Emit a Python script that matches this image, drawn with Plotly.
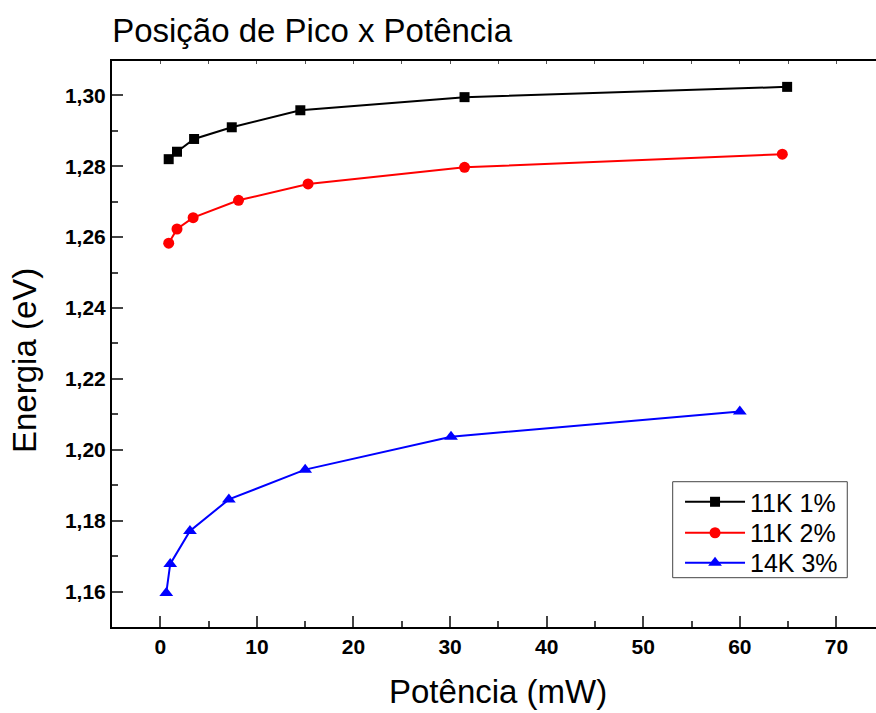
import plotly.graph_objects as go

# Data
x_11k1 = [0.87, 1.73, 3.5, 7.4, 14.5, 31.5, 64.9]
y_11k1 = [1.2820, 1.2841, 1.2877, 1.2910, 1.2958, 1.2995, 1.3024]
x_11k2 = [0.87, 1.73, 3.4, 8.1, 15.3, 31.5, 64.4]
y_11k2 = [1.2583, 1.2623, 1.2655, 1.2704, 1.2750, 1.2797, 1.2834]
x_14k3 = [0.62, 1.03, 3.07, 7.1, 15.0, 30.1, 60.0]
y_14k3 = [1.1596, 1.1678, 1.1771, 1.1860, 1.1944, 1.2037, 1.2108]
names = ["11K 1%", "11K 2%", "14K 3%"]

FONT = "Liberation Sans, Arial, sans-serif"
XR = [-5, 74.1]
YR = [1.15, 1.3097]

fig = go.Figure()
fig.add_trace(go.Scatter(x=x_11k1, y=y_11k1, name=names[0], mode="lines+markers",
                         line=dict(color="black", width=2), legend="legend",
                         marker=dict(symbol="square", size=10, color="black")))
fig.add_trace(go.Scatter(x=x_11k2, y=y_11k2, name=names[1], mode="lines+markers",
                         line=dict(color="red", width=2), legend="legend2",
                         marker=dict(symbol="circle", size=11, color="red")))
fig.add_trace(go.Scatter(x=x_14k3, y=y_14k3, name=names[2], mode="lines+markers",
                         line=dict(color="blue", width=2), legend="legend3",
                         marker=dict(symbol="triangle-up", size=12, color="blue")))
# invisible trace for top axis ticks
fig.add_trace(go.Scatter(x=[XR[0]], y=[YR[0]], xaxis="x2", mode="markers",
                         marker=dict(opacity=0), showlegend=False, hoverinfo="skip"))

leg_common = dict(xanchor="left", yanchor="middle", borderwidth=0,
                  bgcolor="rgba(0,0,0,0)", itemwidth=60,
                  font=dict(size=25, family=FONT, color="black"))
LX = 0.7435

fig.update_layout(
    width=876, height=713,
    margin=dict(l=112, r=0, t=61, b=86),
    plot_bgcolor="white", paper_bgcolor="white",
    separators=",.",
    font=dict(family=FONT, color="black"),
    title=dict(text="Posição de Pico x Potência", x=0.128, xanchor="left",
               xref="container", y=1 - 30 / 713, yref="container", yanchor="middle",
               font=dict(size=33, family=FONT, color="black")),
    xaxis=dict(range=XR, dtick=10, tick0=0, ticks="inside", ticklen=11, tickwidth=2,
               showline=True, linewidth=2, linecolor="black", mirror=True,
               showgrid=False, zeroline=False,
               tickfont=dict(size=21, family=FONT, color="black", weight="bold"),
               minor=dict(ticks="inside", ticklen=6, tickwidth=2, dtick=5, tick0=0, showgrid=False)),
    xaxis2=dict(range=XR, overlaying="x", side="top", dtick=5, tick0=0, ticks="inside",
                ticklen=3, tickwidth=1, tickcolor="#555", showticklabels=False,
                showline=False, showgrid=False, zeroline=False),
    yaxis=dict(range=YR, dtick=0.02, tick0=1.16, tickformat=".2f", ticks="inside",
               ticklen=11, tickwidth=2, showline=True, linewidth=2, linecolor="black",
               showgrid=False, zeroline=False,
               tickfont=dict(size=21, family=FONT, color="black", weight="bold"),
               minor=dict(ticks="inside", ticklen=6, tickwidth=2, dtick=0.01, tick0=1.16, showgrid=False)),
    legend=dict(x=LX, y=0.2208, **leg_common),
    legend2=dict(x=LX, y=0.1661, **leg_common),
    legend3=dict(x=LX, y=0.1131, **leg_common),
    showlegend=True,
    annotations=[
        dict(text="Energia (eV)", textangle=-90, xref="paper", yref="paper",
             x=-0.1152, y=0.4717, xanchor="center", yanchor="middle", showarrow=False,
             font=dict(size=33, family=FONT, color="black")),
        dict(text="Potência (mW)", xref="paper", yref="paper",
             x=0.5052, y=-0.1131, xanchor="center", yanchor="middle", showarrow=False,
             font=dict(size=33, family=FONT, color="black")),
    ],
    shapes=[dict(type="rect", xref="paper", yref="paper",
                 x0=0.7339, x1=0.9624, y0=0.0871, y1=0.2567,
                 line=dict(color="#444", width=1), fillcolor="rgba(0,0,0,0)")],
)

fig.write_html("out.html")
